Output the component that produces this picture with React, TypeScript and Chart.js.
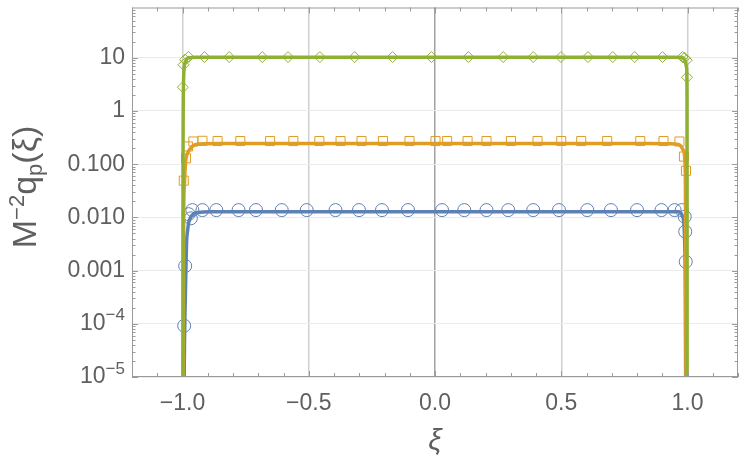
import React, { useEffect, useRef } from "react";
import { Chart, registerables } from "chart.js";

Chart.register(...registerables);

// ---- axis ticks ----
const xTickValues = [-1, -0.5, 0, 0.5, 1];
const xTickLabels = ["−1.0", "−0.5", "0.0", "0.5", "1.0"];
const yTickValues = [1e-5, 1e-4, 1e-3, 1e-2, 1e-1, 1, 10];
const yTickLabels = ["10^−5", "10^−4", "0.001", "0.010", "0.100", "1", "10"];
const xRange = [-1.2, 1.2];
const yRange = [1e-5, 88];

// ---- sampled points (markers) ----
const greenPtsXi = [-0.9985, -0.996, -0.99, -0.976, -0.913, -0.815, -0.684, -0.582, -0.456, -0.318, -0.168, -0.014, 0.132, 0.27, 0.389, 0.499, 0.606, 0.704, 0.791, 0.901, 0.98, 0.988, 0.997, 0.998];
const greenPtsVal = [2.8, 7.4, 9.2, 10.4, 10.3, 10.3, 10.3, 10.3, 10.3, 10.3, 10.3, 10.3, 10.3, 10.3, 10.3, 10.3, 10.3, 10.3, 10.3, 10.3, 10.3, 10.0, 9.0, 4.3];

const orangePtsXi = [-0.995, -0.986, -0.978, -0.957, -0.921, -0.861, -0.771, -0.653, -0.561, -0.458, -0.374, -0.291, -0.206, -0.101, 0.002, 0.048, 0.129, 0.204, 0.301, 0.406, 0.5, 0.579, 0.682, 0.813, 0.905, 0.968, 0.986, 0.994];
const orangePtsVal = [0.049, 0.129, 0.215, 0.267, 0.275, 0.272, 0.272, 0.272, 0.272, 0.272, 0.272, 0.272, 0.272, 0.272, 0.272, 0.272, 0.272, 0.272, 0.272, 0.272, 0.272, 0.272, 0.272, 0.272, 0.272, 0.267, 0.139, 0.075];

const bluePtsXi = [-0.9933, -0.9893, -0.976, -0.967, -0.961, -0.921, -0.866, -0.778, -0.709, -0.607, -0.508, -0.394, -0.301, -0.21, -0.107, 0.028, 0.116, 0.204, 0.29, 0.389, 0.491, 0.603, 0.697, 0.8, 0.897, 0.949, 0.977, 0.989, 0.991, 0.993];
const bluePtsVal = [9.2e-5, 0.00122, 0.0115, 0.0096, 0.0137, 0.0137, 0.0137, 0.0137, 0.0137, 0.0137, 0.0137, 0.0137, 0.0137, 0.0137, 0.0137, 0.0137, 0.0137, 0.0137, 0.0137, 0.0137, 0.0137, 0.0137, 0.0137, 0.0137, 0.0137, 0.0137, 0.0137, 0.0103, 0.0054, 0.00147];

// ---- curves ----
const greenLineXi = [-0.9985, -0.998, -0.996, -0.994, -0.988, -0.976, -0.95, 0, 0.95, 0.98, 0.99, 0.9965, 0.998, 0.9985];
const greenLineVal = [5e-6, 0.058, 3.2, 6.0, 8.4, 10.0, 10.2, 10.2, 10.2, 10.1, 9.0, 6.5, 2.0, 5e-6];

const orangeLineXi = [-0.997, -0.996, -0.995, -0.992, -0.988, -0.98, -0.968, -0.957, -0.93, -0.85, 0, 0.85, 0.93, 0.965, 0.984, 0.99, 0.992, 0.994];
const orangeLineVal = [5e-6, 0.0022, 0.015, 0.044, 0.104, 0.16, 0.198, 0.225, 0.24, 0.245, 0.245, 0.245, 0.242, 0.235, 0.18, 0.105, 0.019, 5e-6];

const blueLineXi = [-0.994, -0.9921, -0.9897, -0.987, -0.984, -0.98, -0.976, -0.968, -0.954, -0.937, -0.89, -0.5, 0, 0.5, 0.89, 0.964, 0.98, 0.986, 0.989, 0.991, 0.993];
const blueLineVal = [5e-6, 4.6e-5, 2.0e-4, 8.1e-4, 0.0033, 0.0055, 0.0077, 0.01, 0.0119, 0.0124, 0.0127, 0.0128, 0.0128, 0.0128, 0.0127, 0.0127, 0.0105, 0.0072, 0.0031, 0.00086, 5e-6];

const BLUE = "#5E81B5";
const ORANGE = "#E19C24";
const GREEN = "#8FB032";
const TEXT = "#5f5f5f";
const FRAME = "#9a9a9a";
const FONT = "'Liberation Sans', Arial, sans-serif";

const pts = (xs: number[], vs: number[]) => xs.map((x, i) => ({ x, y: vs[i] }));

const decor = {
  id: "decor",
  afterDraw(chart: any) {
    const { ctx, chartArea: a, scales } = chart;
    const x = scales.x;
    const y = scales.y;
    ctx.save();
    // frame
    ctx.strokeStyle = FRAME;
    ctx.lineWidth = 1;
    ctx.strokeRect(a.left + 0.5, a.top + 0.5, a.right - a.left - 1, a.bottom - a.top - 1);
    // x ticks
    ctx.beginPath();
    for (let k = -12; k <= 12; k++) {
      const px = Math.round(x.getPixelForValue(k / 10)) + 0.5;
      const len = k % 5 === 0 ? 6 : 4;
      ctx.moveTo(px, a.bottom);
      ctx.lineTo(px, a.bottom - len);
      ctx.moveTo(px, a.top);
      ctx.lineTo(px, a.top + len);
    }
    // y ticks
    for (let e = -5; e <= 1; e++) {
      for (let m = 1; m <= 9; m++) {
        const v = m * Math.pow(10, e);
        if (v > yRange[1]) break;
        const py = Math.round(y.getPixelForValue(v)) + 0.5;
        const len = m === 1 ? 6 : 3.5;
        ctx.moveTo(a.left, py);
        ctx.lineTo(a.left + len, py);
        ctx.moveTo(a.right, py);
        ctx.lineTo(a.right - len, py);
      }
    }
    ctx.stroke();

    // x labels
    ctx.fillStyle = TEXT;
    ctx.font = `23px ${FONT}`;
    ctx.textAlign = "center";
    ctx.textBaseline = "middle";
    xTickValues.forEach((v, i) => {
      ctx.fillText(xTickLabels[i], x.getPixelForValue(v), 404);
    });

    // y labels
    const rightX = a.left - 7;
    yTickValues.forEach((v, i) => {
      const py = y.getPixelForValue(v);
      const lab = yTickLabels[i];
      if (lab.includes("^")) {
        const [base, exp] = lab.split("^");
        ctx.font = `23px ${FONT}`;
        const wb = ctx.measureText(base).width;
        ctx.font = `17px ${FONT}`;
        const we = ctx.measureText(exp).width;
        ctx.textAlign = "left";
        ctx.font = `23px ${FONT}`;
        ctx.fillText(base, rightX - we - wb, py);
        ctx.font = `17px ${FONT}`;
        ctx.fillText(exp, rightX - we, py - 8);
      } else {
        ctx.textAlign = "right";
        ctx.font = `23px ${FONT}`;
        ctx.fillText(lab, rightX, py);
      }
    });

    // x title
    ctx.textAlign = "center";
    ctx.font = `italic 30px ${FONT}`;
    ctx.fillText("ξ", (a.left + a.right) / 2, 442);

    // y title (rotated)
    const big = `34px ${FONT}`;
    const small = `22px ${FONT}`;
    const parts = [
      { t: "M", f: big, dy: 0 },
      { t: "−2", f: small, dy: -12 },
      { t: "q", f: big, dy: 0 },
      { t: "p", f: small, dy: 6 },
      { t: "(ξ)", f: big, dy: 0 },
    ];
    let total = 0;
    const widths = parts.map((p) => {
      ctx.font = p.f;
      const w = ctx.measureText(p.t).width;
      total += w;
      return w;
    });
    ctx.translate(36, 187);
    ctx.rotate(-Math.PI / 2);
    ctx.textAlign = "left";
    ctx.textBaseline = "alphabetic";
    let cx = -total / 2;
    parts.forEach((p, i) => {
      ctx.font = p.f;
      ctx.fillText(p.t, cx, p.dy);
      cx += widths[i];
    });
    ctx.restore();
  },
};

export default function App() {
  const ref = useRef<HTMLCanvasElement | null>(null);
  useEffect(() => {
    if (!ref.current) return;
    const lineDs = (xs: number[], vs: number[], color: string, order: number) => ({
      data: pts(xs, vs),
      showLine: true,
      borderColor: color,
      borderWidth: 3.5,
      pointRadius: 0,
      cubicInterpolationMode: "monotone",
      fill: false,
      clip: 0,
      order,
    });
    const markDs = (xs: number[], vs: number[], color: string, style: string, r: number, order: number) => ({
      data: pts(xs, vs),
      showLine: false,
      pointStyle: style,
      pointRadius: r,
      pointBorderColor: color,
      pointBackgroundColor: "rgba(0,0,0,0)",
      pointBorderWidth: 1,
      borderColor: color,
      order,
    });
    const chart = new Chart(ref.current, {
      type: "scatter",
      data: {
        datasets: [
          lineDs(greenLineXi, greenLineVal, GREEN, 0),
          lineDs(orangeLineXi, orangeLineVal, ORANGE, 1),
          lineDs(blueLineXi, blueLineVal, BLUE, 2),
          markDs(greenPtsXi, greenPtsVal, GREEN, "rectRot", 5.5, 3),
          markDs(orangePtsXi, orangePtsVal, ORANGE, "rect", 6.4, 4),
          markDs(bluePtsXi, bluePtsVal, BLUE, "circle", 6.5, 5),
        ] as any,
      },
      options: {
        animation: false,
        responsive: false,
        events: [],
        layout: { padding: { left: 0, right: 12, top: 2, bottom: 0 } },
        plugins: { legend: { display: false }, tooltip: { enabled: false } },
        scales: {
          x: {
            type: "linear",
            min: xRange[0],
            max: xRange[1],
            afterBuildTicks: (s: any) => {
              s.ticks = xTickValues.map((v) => ({ value: v }));
            },
            afterFit: (s: any) => {
              s.height = 92;
            },
            ticks: { display: false },
            border: { display: false },
            grid: {
              drawTicks: false,
              lineWidth: 1.5,
              color: (c: any) => (c.tick && c.tick.value === 0 ? "#a2a2a2" : "#d0d0d0"),
            },
          },
          y: {
            type: "logarithmic",
            min: yRange[0],
            max: yRange[1],
            afterBuildTicks: (s: any) => {
              s.ticks = yTickValues.map((v) => ({ value: v }));
            },
            afterFit: (s: any) => {
              s.width = 132;
            },
            ticks: { display: false },
            border: { display: false },
            grid: { drawTicks: false, lineWidth: 1, color: "#ebebeb" },
          },
        },
      } as any,
      plugins: [decor],
    });
    return () => chart.destroy();
  }, []);
  return (
    <div style={{ position: "fixed", left: 0, top: 0, width: 750, height: 469, background: "#fff" }}>
      <canvas ref={ref} width={750} height={469} style={{ display: "block" }} />
    </div>
  );
}
